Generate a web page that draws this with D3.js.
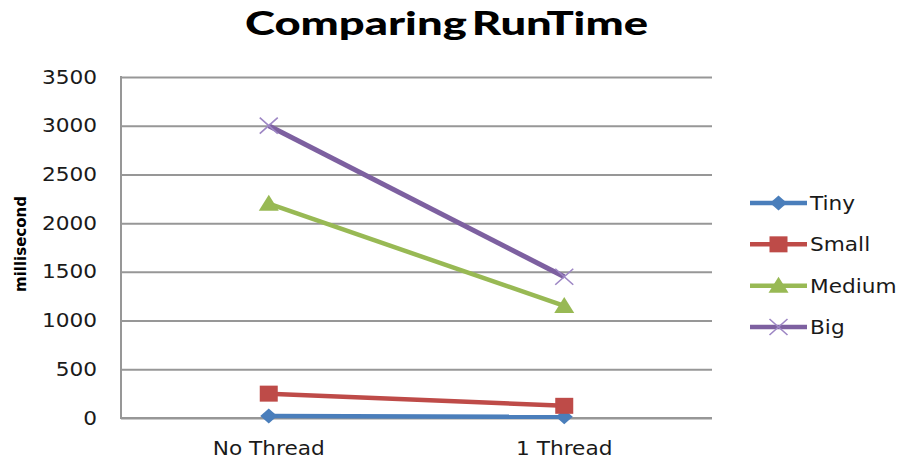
<!DOCTYPE html>
<html><head><meta charset="utf-8">
<script src="https://cdn.jsdelivr.net/npm/d3@7"></script>
<style>body{margin:0;background:#fff}svg{display:block}</style>
</head><body>
<svg id="c" width="903" height="461"></svg>
<script>
const categories = ["No Thread", "1 Thread"];
const seriesNames = ["Tiny", "Small", "Medium", "Big"];
const tinyValues = [20, 12];
const smallValues = [250, 125];
const mediumValues = [2200, 1150];
const bigValues = [3000, 1450];
const yTicks = [0, 500, 1000, 1500, 2000, 2500, 3000, 3500];
const colors = ["#4A7EBB", "#BE4B48", "#98B954", "#7D60A0"];
const markers = ["diamond", "square", "triangle", "x"];

const series = seriesNames.map((n, i) => ({
  name: n, color: colors[i], marker: markers[i],
  values: [tinyValues, smallValues, mediumValues, bigValues][i]
}));

const svg = d3.select("#c");
const m = {l: 121, r: 712, t: 77, b: 418};
const stretch = 1.14;

function widen(sel, s) {
  sel.each(function() {
    const w = this.getComputedTextLength();
    d3.select(this).attr("textLength", w * s).attr("lengthAdjust", "spacingAndGlyphs");
  });
}

const x = d3.scaleBand().domain(categories).range([m.l, m.r]).padding(0);
const cx = c => x(c) + x.bandwidth() / 2;
const y = d3.scaleLinear().domain([0, 3500]).range([m.b, m.t]);

// gridlines + y axis
const yAxis = svg.append("g").attr("transform", `translate(${m.l},0)`)
  .call(d3.axisLeft(y).tickValues(yTicks).tickSize(-(m.r - m.l)).tickPadding(24).tickFormat(d3.format("d")));
yAxis.select(".domain").remove();
yAxis.selectAll(".tick line").attr("stroke", "#979797").attr("stroke-width", 2);
yAxis.selectAll(".tick text").attr("font-family", "DejaVu Sans").attr("font-size", 19).attr("fill", "#1a1a1a");
widen(yAxis.selectAll(".tick text"), stretch);

// axis lines
svg.append("line").attr("x1", m.l).attr("x2", m.l).attr("y1", m.t - 1).attr("y2", m.b + 1)
  .attr("stroke", "#979797").attr("stroke-width", 2);
svg.append("line").attr("x1", m.l).attr("x2", m.r).attr("y1", m.b).attr("y2", m.b)
  .attr("stroke", "#979797").attr("stroke-width", 2);

// x labels
const xAxis = svg.append("g").attr("transform", `translate(0,${m.b})`)
  .call(d3.axisBottom(x).tickSize(0).tickPadding(24));
xAxis.select(".domain").remove();
xAxis.selectAll(".tick text").attr("font-family", "DejaVu Sans").attr("font-size", 19).attr("fill", "#1a1a1a");
widen(xAxis.selectAll(".tick text"), stretch);

// marker drawing
function drawMarker(g, type, color, px, py) {
  if (type === "diamond") {
    g.append("path").attr("d", `M${px},${py-7.5}L${px+8.5},${py}L${px},${py+7.5}L${px-8.5},${py}Z`).attr("fill", color);
  } else if (type === "square") {
    g.append("rect").attr("x", px - 9).attr("y", py - 8).attr("width", 18).attr("height", 16).attr("fill", color);
  } else if (type === "triangle") {
    g.append("path").attr("d", `M${px},${py-9}L${px+10},${py+7}L${px-10},${py+7}Z`).attr("fill", color);
  } else {
    g.append("path").attr("d", `M${px-9},${py-8}L${px+9},${py+8}M${px-9},${py+8}L${px+9},${py-8}`)
      .attr("stroke", "#9d86c4").attr("stroke-width", 1.6).attr("fill", "none");
  }
}

const line = d3.line().x((d, i) => cx(categories[i])).y(d => y(d));
const plot = svg.append("g");
series.forEach(s => {
  plot.append("path").datum(s.values).attr("d", line).attr("fill", "none")
    .attr("stroke", s.color).attr("stroke-width", s.name === "Big" ? 5 : 4.5);
});
series.forEach(s => {
  const g = plot.append("g");
  s.values.forEach((v, i) => drawMarker(g, s.marker, s.color, cx(categories[i]), y(v)));
});

// legend
const legRows = d3.scaleLinear().domain([0, 3]).range([203, 327]);
series.forEach((s, i) => {
  const ly = legRows(i);
  const g = svg.append("g");
  g.append("line").attr("x1", 750).attr("x2", 807).attr("y1", ly).attr("y2", ly)
    .attr("stroke", s.color).attr("stroke-width", 4.5);
  drawMarker(g, s.marker, s.color, 778.5, ly);
  const t = g.append("text").attr("x", 810).attr("y", ly).attr("dy", "0.36em")
    .attr("font-family", "DejaVu Sans").attr("font-size", 19).attr("fill", "#1a1a1a").text(s.name);
  widen(t, stretch);
});

// y-axis title
svg.append("text").attr("transform", "translate(26,244) rotate(-90)").attr("text-anchor", "middle")
  .attr("font-family", "DejaVu Sans").attr("font-weight", "bold").attr("font-size", 15).attr("fill", "#000")
  .text("millisecond");

// title
const title = svg.append("text").attr("x", 446.5).attr("y", 35).attr("text-anchor", "middle")
  .attr("font-family", "Lato").attr("font-weight", "900").attr("font-size", 32).attr("fill", "#000")
  .attr("word-spacing", -4)
  .text("Comparing RunTime");
title.attr("textLength", 403).attr("lengthAdjust", "spacingAndGlyphs");
</script>
</body></html>
